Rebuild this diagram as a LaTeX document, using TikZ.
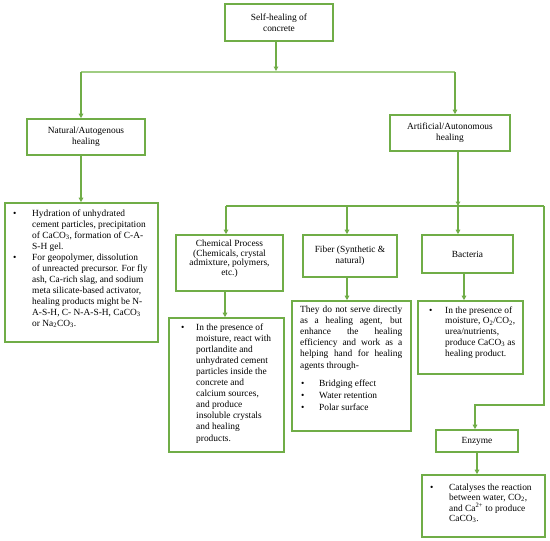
\documentclass[tikz,border=0pt]{standalone}
\usepackage{fontspec}
\setmainfont{Liberation Serif}
\usetikzlibrary{arrows.meta}
\definecolor{gbox}{RGB}{112,173,71}
\definecolor{glight}{RGB}{160,205,130}
\newcommand\dfont{\fontsize{9.4}{11}\selectfont}
\begin{document}
\begin{tikzpicture}[x=1pt,y=-1pt,
  box/.style={draw=gbox, line width=1.6pt, rectangle, inner sep=0pt, align=center, font=\dfont},
  conn/.style={draw=gbox, line width=1.1pt, -{Triangle[length=4.5pt,width=4.5pt]}},
  plain/.style={draw=gbox, line width=1.1pt},
  lite/.style={draw=glight, line width=1.3pt},
  txt/.style={inner sep=0pt, anchor=base west},
  bul/.style={inner sep=0pt, anchor=base west, font=\dfont}]
\fill[white] (0,0) rectangle (550,541);
\useasboundingbox (0,0) rectangle (550,541);

% boxes
\node[box, minimum width=108pt, minimum height=37pt] (top) at (279,22.5) {Self-healing of\\concrete};
\node[box, minimum width=118pt, minimum height=36pt] (nat) at (86,137) {Natural/Autogenous\\healing};
\node[box, minimum width=120pt, minimum height=36pt] (art) at (450,133) {Artificial/Autonomous\\healing};
\node[box, minimum width=153pt, minimum height=139pt] (natd) at (81.5,272.5) {};
\node[box, minimum width=107pt, minimum height=56pt] (chem) at (229.5,263) {};
\node[box, minimum width=115pt, minimum height=134pt] (chemd) at (226.5,385) {};
\node[box, minimum width=94pt, minimum height=42pt] (fib) at (350,256) {Fiber (Synthetic \&\\natural)};
\node[box, minimum width=119pt, minimum height=130pt] (fibd) at (351.5,366) {};
\node[box, minimum width=91pt, minimum height=38pt] (bac) at (467.5,254) {Bacteria};
\node[box, minimum width=105pt, minimum height=73pt] (bacd) at (470.5,337.5) {};
\node[box, minimum width=82pt, minimum height=22pt] (enz) at (477,441) {Enzyme};
\node[box, minimum width=123pt, minimum height=62pt] (enzd) at (483.5,506) {};

% chemical box text
\node[inner sep=0pt, anchor=base] (chemt) at (229.5,246) {\parbox[t]{110pt}{\centering\dfont Chemical Process\par\vspace{2pt}
  \fontsize{9.4}{8}\selectfont (Chemicals, crystal\\admixture, polymers,\\etc.)\par}};

% natural detail text
\node[bul] (nb1) at (13,216) {•};
\node[bul] (nb2) at (13,260) {•};
\node[txt] (nt) at (32,216) {\parbox[t]{140pt}{\dfont\raggedright
Hydration of unhydrated\\
cement particles, precipitation\\
of CaCO\textsubscript{3}, formation of C-A-\\
S-H gel.\\
For geopolymer, dissolution\\
of unreacted precursor. For fly\\
ash, Ca-rich slag, and sodium\\
meta silicate-based activator,\\
healing products might be N-\\
A-S-H, C- N-A-S-H, CaCO\textsubscript{3}\\
or Na\textsubscript{2}CO\textsubscript{3}.}};

% chemical detail text
\node[bul] (cb1) at (181,330) {•};
\node[txt] (ct) at (196,330) {\parbox[t]{100pt}{\fontsize{9.4}{11.1}\selectfont\raggedright
In the presence of\\
moisture, react with\\
portlandite and\\
unhydrated cement\\
particles inside the\\
concrete and\\
calcium sources,\\
and produce\\
insoluble crystals\\
and healing\\
products.}};

% fiber detail text
\node[txt] (ft) at (300,312) {\parbox[t]{110pt}{\fontsize{9.4}{11.2}\selectfont\raggedright
\makebox[102pt][s]{They do not serve directly}\\
\makebox[102pt][s]{as a healing agent, but}\\
\makebox[102pt][s]{enhance the healing}\\
\makebox[102pt][s]{efficiency and work as a}\\
\makebox[102pt][s]{helping hand for healing}\\
agents through-}};
\node[bul] (fb1) at (301,386) {•};
\node[bul] (fb2) at (301,398) {•};
\node[bul] (fb3) at (301,410) {•};
\node[txt] (ft1) at (319,386) {\dfont Bridging effect};
\node[txt] (ft2) at (319,398) {\dfont Water retention};
\node[txt] (ft3) at (319,410) {\dfont Polar surface};

% bacteria detail text
\node[bul] (bb1) at (429,313) {•};
\node[txt] (bt) at (445,313) {\parbox[t]{90pt}{\fontsize{9.4}{10.8}\selectfont\raggedright
In the presence of\\
moisture, O\textsubscript{2}/CO\textsubscript{2},\\
urea/nutrients,\\
produce CaCO\textsubscript{3} as\\
healing product.}};

% enzyme detail text
\node[bul] (eb1) at (430,490) {•};
\node[txt] (et) at (449,490) {\parbox[t]{95pt}{\fontsize{9.4}{10.5}\selectfont\raggedright
Catalyses the reaction\\
between water, CO\textsubscript{2},\\
and Ca\textsuperscript{2+} to produce\\
CaCO\textsubscript{3}.}};

% connectors
\coordinate (hl) at (81,72);
\coordinate (hr) at (455,72);
\coordinate (c1) at (226,206);
\coordinate (c2) at (347,206);
\coordinate (c3) at (458,206);
\coordinate (c4) at (544,206);
\coordinate (c5) at (544,405);
\coordinate (c6) at (475,405);

\draw[lite] (hl) -- (hr);
\draw[conn] (top.south -| 276,0) -- (276,71);
\draw[conn] (hl) -- (hl |- nat.north);
\draw[conn] (hr) -- (hr |- art.north);
\draw[conn] (hl |- nat.south) -- (hl |- natd.north);

\draw[conn] (c3 |- art.south) -- (c3);
\draw[plain] (c1) -- (c4);
\draw[conn] (c1) -- (c1 |- chem.north);
\draw[conn] (c2) -- (c2 |- fib.north);
\draw[conn] (c3) -- (c3 |- bac.north);
\draw[conn] (c4) -- (c5) -- (c6) -- (c6 |- enz.north);

\draw[conn] (225,0 |- chem.south) -- (225,0 |- chemd.north);
\draw[conn] (347,0 |- fib.south) -- (347,0 |- fibd.north);
\draw[conn] (464,0 |- bac.south) -- (464,0 |- bacd.north);
\draw[conn] (477,0 |- enz.south) -- (477,0 |- enzd.north);
\end{tikzpicture}
\end{document}
